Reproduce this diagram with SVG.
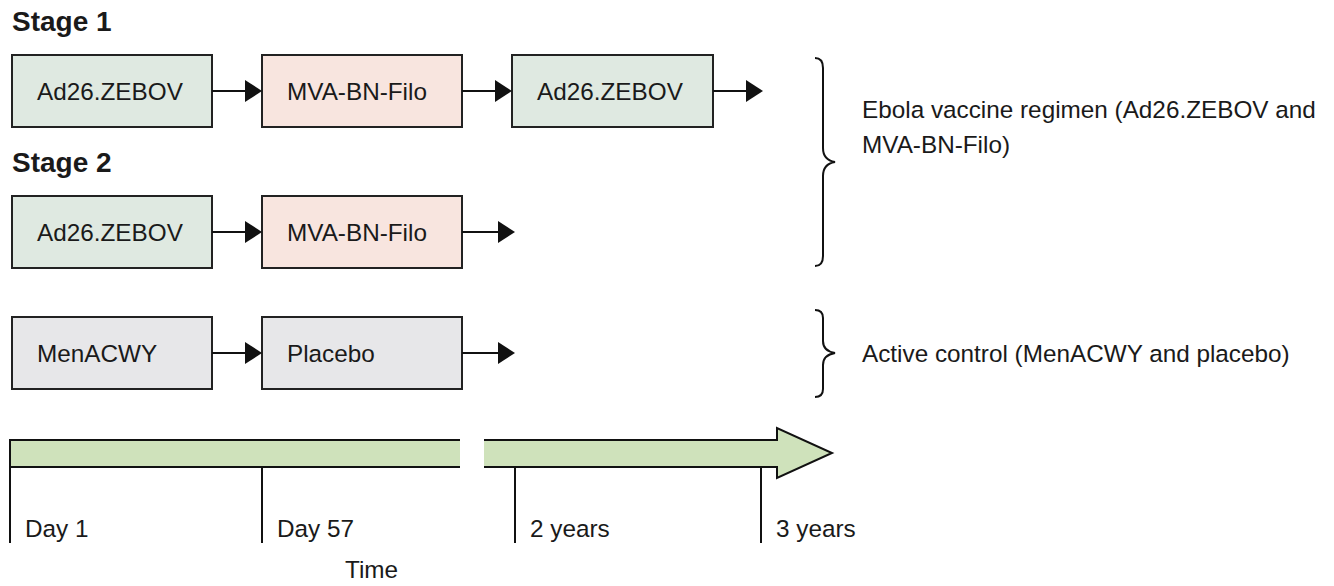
<svg xmlns="http://www.w3.org/2000/svg" width="1334" height="586" viewBox="0 0 1334 586">
<defs>
<style>
text{font-family:"Liberation Sans",Arial,sans-serif;font-size:24.3px;fill:#1a1a1a}
.h{font-weight:bold;font-size:28px}
.box{stroke:#222;stroke-width:2}
.g{fill:#dfe9e1}.p{fill:#f8e5df}.c{fill:#e7e7e9}
.ln{stroke:#111;stroke-width:2;fill:none}
.ah{fill:#111}
</style>
</defs>
<rect width="1334" height="586" fill="#fff"/>
<text class="h" x="12" y="31">Stage 1</text>
<text class="h" x="12" y="172">Stage 2</text>
<g id="s1a"><rect class="box g" x="12" y="55" width="200" height="72"/><text x="37" y="100">Ad26.ZEBOV</text></g>
<g id="s1b"><rect class="box p" x="262" y="55" width="200" height="72"/><text x="287" y="100">MVA-BN-Filo</text></g>
<g id="s1c"><rect class="box g" x="512" y="55" width="201" height="72"/><text x="537" y="100">Ad26.ZEBOV</text></g>
<g id="s2a"><rect class="box g" x="12" y="196" width="200" height="72"/><text x="37" y="241">Ad26.ZEBOV</text></g>
<g id="s2b"><rect class="box p" x="262" y="196" width="200" height="72"/><text x="287" y="241">MVA-BN-Filo</text></g>
<g id="c1"><rect class="box c" x="12" y="317" width="200" height="72"/><text x="37" y="362">MenACWY</text></g>
<g id="c2"><rect class="box c" x="262" y="317" width="200" height="72"/><text x="287" y="362">Placebo</text></g>
<g id="connectors">
<line class="ln" x1="212" y1="91" x2="247" y2="91"/><polygon class="ah" points="245,80 262,91 245,102"/>
<line class="ln" x1="462" y1="91" x2="497" y2="91"/><polygon class="ah" points="495,80 512,91 495,102"/>
<line class="ln" x1="713" y1="91" x2="748" y2="91"/><polygon class="ah" points="746,80 763,91 746,102"/>
<line class="ln" x1="212" y1="232" x2="247" y2="232"/><polygon class="ah" points="245,221 262,232 245,243"/>
<line class="ln" x1="462" y1="232" x2="500" y2="232"/><polygon class="ah" points="498,221 515,232 498,243"/>
<line class="ln" x1="212" y1="353" x2="247" y2="353"/><polygon class="ah" points="245,342 262,353 245,364"/>
<line class="ln" x1="462" y1="353" x2="500" y2="353"/><polygon class="ah" points="498,342 515,353 498,364"/>
</g>
<g id="brace1"><path class="ln" d="M815,58 Q823,58 823,68 L823,148 Q823,160 835,162 Q823,164 823,176 L823,256 Q823,266 815,266"/>
<text x="862" y="118">Ebola vaccine regimen (Ad26.ZEBOV and</text>
<text x="862" y="153">MVA-BN-Filo)</text></g>
<g id="brace2"><path class="ln" d="M815,310 Q823,310 823,318 L823,341 Q823,351 835,353 Q823,355 823,365 L823,389 Q823,397 815,397"/>
<text x="862" y="362">Active control (MenACWY and placebo)</text></g>
<g id="timeline">
<rect x="10" y="440" width="450" height="27" fill="#cfe2bb"/>
<polyline class="ln" points="460,440 10,440 10,543"/>
<line class="ln" x1="10" y1="467" x2="460" y2="467"/>
<polygon points="484,440 777,440 777,428 832,453 777,478 777,467 484,467" fill="#cfe2bb"/>
<polyline class="ln" points="484,440 777,440 777,428 832,453 777,478 777,467 484,467"/>
<line class="ln" x1="262" y1="467" x2="262" y2="543"/>
<line class="ln" x1="515" y1="467" x2="515" y2="543"/>
<line class="ln" x1="761" y1="467" x2="761" y2="543"/>
<text x="25" y="537">Day 1</text>
<text x="277" y="537">Day 57</text>
<text x="530" y="537">2 years</text>
<text x="776" y="537">3 years</text>
<text x="345" y="578">Time</text>
</g>
</svg>
